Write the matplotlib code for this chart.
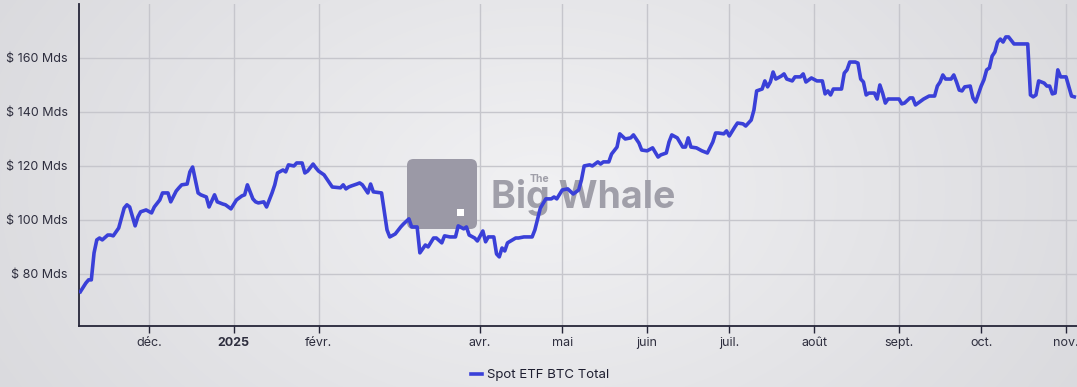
import numpy as np
import pandas as pd
import matplotlib
matplotlib.use('Agg')
import matplotlib.pyplot as plt
from matplotlib.patches import FancyBboxPatch, Rectangle

plt.rcParams['font.family'] = ['Inter', 'DejaVu Sans']

# data: days since 2024-11-05, total value in billions USD
start = pd.Timestamp('2024-11-05')
day = [1, 3, 4, 5, 6, 7, 8, 9, 11, 12, 13, 15, 17, 18, 19, 21, 22, 23, 25, 27,
       28, 30, 31, 33, 34, 36, 37, 38, 40, 41, 42, 43, 44, 45, 47, 48, 50, 51, 53, 54,
       56, 58, 60, 61, 62, 64, 65, 66, 68, 69, 71, 72, 73, 75, 76, 77, 79, 80, 82, 83,
       84, 86, 87, 88, 90, 92, 93, 96, 97, 98, 99, 100, 102, 103, 104, 106, 107, 108, 111, 113,
       114, 116, 118, 119, 121, 122, 124, 125, 127, 128, 130, 131, 133, 134, 136, 138, 139, 141, 142, 143,
       145, 146, 148, 149, 150, 152, 153, 154, 155, 156, 157, 160, 161, 163, 166, 167, 169, 171, 173, 174,
       175, 177, 179, 181, 183, 184, 185, 187, 188, 190, 191, 192, 194, 195, 197, 198, 200, 202, 203, 205,
       206, 208, 210, 212, 213, 215, 216, 217, 219, 221, 222, 223, 224, 226, 228, 230, 232, 233, 234, 236,
       237, 238, 240, 241, 243, 244, 246, 247, 248, 250, 251, 252, 253, 254, 255, 257, 258, 259, 261, 262,
       264, 265, 266, 268, 270, 272, 273, 274, 275, 276, 279, 280, 281, 282, 284, 285, 286, 287, 288, 289,
       291, 292, 293, 294, 295, 296, 300, 301, 302, 304, 305, 306, 308, 309, 311, 313, 314, 315, 316, 317,
       319, 320, 321, 322, 323, 324, 326, 327, 328, 330, 331, 332, 333, 334, 335, 336, 337, 338, 339, 340,
       342, 347, 348, 349, 350, 351, 353, 354, 355, 356, 357, 358, 359, 361, 363, 364]
value = [73.4, 76.6, 77.8, 77.8, 87.8, 92.6, 93.3, 92.6, 94.4, 94.4, 94.1, 97.0, 104.4, 105.6, 104.8, 97.8, 101.1, 103.0, 103.7, 102.6,
         104.8, 107.4, 110.0, 110.0, 106.7, 110.7, 111.9, 113.0, 113.3, 117.8, 119.6, 114.8, 110.0, 109.3, 108.5, 104.8, 109.3, 106.7, 105.9, 105.6,
         104.1, 107.4, 108.9, 109.3, 113.0, 107.8, 106.7, 106.3, 106.7, 104.8, 110.0, 113.0, 117.4, 118.5, 117.8, 120.4, 120.0, 121.1, 121.1, 117.4,
         118.1, 120.7, 119.3, 118.1, 116.7, 113.7, 112.2, 111.9, 113.0, 111.5, 112.2, 112.6, 113.3, 113.7, 113.0, 110.0, 113.3, 110.4, 110.0, 96.3,
         93.7, 94.8, 97.4, 98.5, 100.4, 97.4, 97.4, 87.8, 90.7, 90.0, 93.3, 93.3, 91.5, 94.1, 93.7, 93.7, 97.8, 96.7, 97.4, 94.4,
         93.3, 92.2, 95.9, 91.9, 93.7, 93.7, 87.4, 86.3, 89.6, 88.5, 91.5, 93.3, 93.3, 93.7, 93.7, 96.3, 104.4, 107.8, 107.8, 108.5,
         107.8, 111.1, 111.5, 109.6, 111.1, 114.8, 120.0, 120.4, 120.0, 121.5, 120.7, 121.5, 121.5, 124.4, 127.0, 131.9, 130.0, 130.4, 131.5, 128.5,
         125.9, 125.6, 126.7, 123.3, 124.1, 124.8, 128.9, 131.5, 130.4, 127.0, 127.0, 130.4, 127.0, 126.7, 125.6, 124.8, 128.9, 132.2, 132.2, 131.9,
         133.0, 131.1, 134.4, 135.9, 135.6, 134.8, 137.0, 140.7, 147.8, 148.5, 151.5, 149.3, 151.1, 154.8, 152.2, 153.3, 154.1, 152.2, 151.5, 153.0,
         153.0, 154.1, 151.1, 152.6, 151.5, 151.5, 146.7, 147.8, 146.3, 148.5, 148.5, 154.4, 155.6, 158.5, 158.5, 158.1, 152.2, 151.1, 146.3, 147.0,
         147.0, 144.8, 150.0, 147.0, 143.3, 144.8, 144.8, 143.0, 143.3, 145.2, 145.2, 142.6, 144.1, 144.8, 145.9, 145.9, 149.6, 151.1, 153.7, 152.2,
         152.2, 153.7, 151.1, 148.1, 147.8, 149.3, 149.6, 145.2, 143.7, 149.6, 151.9, 155.6, 156.3, 160.7, 162.2, 165.9, 167.0, 165.9, 167.8, 167.8,
         165.2, 165.2, 146.3, 145.6, 146.3, 151.5, 150.7, 149.6, 149.6, 146.7, 147.0, 155.6, 153.0, 153.0, 145.9, 145.6]

month_ticks = ['2024-12-01', '2025-01-01', '2025-02-01', '2025-04-01', '2025-05-01', '2025-06-01',
               '2025-07-01', '2025-08-01', '2025-09-01', '2025-10-01', '2025-11-01']
month_labels = ['déc.', '2025', 'févr.', 'avr.', 'mai', 'juin', 'juil.', 'août', 'sept.', 'oct.', 'nov.']
y_ticks = [80, 100, 120, 140, 160]

dates = start + pd.to_timedelta(day, unit='D')

W, H = 1077, 387
fig = plt.figure(figsize=(W / 100, H / 100), dpi=100)

# radial gray background
bg = fig.add_axes([0, 0, 1, 1], zorder=-10)
yy, xx = np.mgrid[0:H, 0:W]
r = np.sqrt(((xx - 540) / 620) ** 2 + ((yy - 190) / 420) ** 2)
r = np.clip(r, 0, 1)
c0 = np.array([0.945, 0.945, 0.953])
c1 = np.array([0.855, 0.855, 0.870])
img = c0 + (c1 - c0) * r[..., None]
bg.imshow(img, aspect='auto', extent=[0, 1, 0, 1])
bg.axis('off')

ax = fig.add_axes([79 / W, 1 - 326 / H, 1 - 79 / W, (326 - 4) / H])
ax.set_facecolor('none')

# watermark: above the grid, below the line
wm = '#9b99a6'
ft = fig.transFigure
ax.add_patch(FancyBboxPatch((407 / W, 1 - 229 / H), 70 / W, 70 / H,
                            boxstyle='round,pad=0,rounding_size=0.006', mutation_aspect=W / H,
                            transform=ft, facecolor=wm, edgecolor='none', zorder=2))
ax.add_patch(Rectangle((457 / W, 1 - 216 / H), 7 / W, 7 / H, transform=ft,
                       facecolor='white', edgecolor='none', zorder=3))
ax.text(491 / W, 1 - 208 / H, 'Big Whale', transform=ft, fontsize=27, fontweight='bold',
        color='#a09fa9', ha='left', va='baseline', zorder=2)
ax.text(530 / W, 1 - 182 / H, 'The', transform=ft, fontsize=7.5, fontweight='bold',
        color='#a09fa9', ha='left', va='baseline', zorder=2)

ax.plot(dates, value, color='#3a40d8', lw=2.6, label='Spot ETF BTC Total', zorder=5,
        solid_joinstyle='round')

ax.set_xlim(pd.Timestamp('2024-11-05 12:00'), pd.Timestamp('2025-11-05'))
ax.set_ylim(60.7, 180)
ax.set_yticks(y_ticks)
ax.set_yticklabels([f'$ {v} Mds' for v in y_ticks])
ax.set_xticks(pd.to_datetime(month_ticks))
ax.set_xticklabels(month_labels)
for lbl in ax.get_xticklabels():
    if lbl.get_text() == '2025':
        lbl.set_fontweight('bold')

ax.grid(True, color='#c6c6cc', lw=1, zorder=0.5)
ax.set_axisbelow(True)
for s in ['top', 'right']:
    ax.spines[s].set_visible(False)
for s in ['left', 'bottom']:
    ax.spines[s].set_color('#252538')
    ax.spines[s].set_linewidth(1.3)
ax.tick_params(axis='y', length=0, pad=8, labelsize=9, labelcolor='#2e2e3e')
ax.tick_params(axis='x', length=5, width=1, color='#252538', pad=3, labelsize=9, labelcolor='#2e2e3e')

fig.legend(loc='center', bbox_to_anchor=(540 / W, 1 - 375 / H), frameon=False, fontsize=9.5,
           handlelength=0.8, handletextpad=0.4, labelcolor='#1e1e30')

fig.savefig('out.png', dpi=100)
